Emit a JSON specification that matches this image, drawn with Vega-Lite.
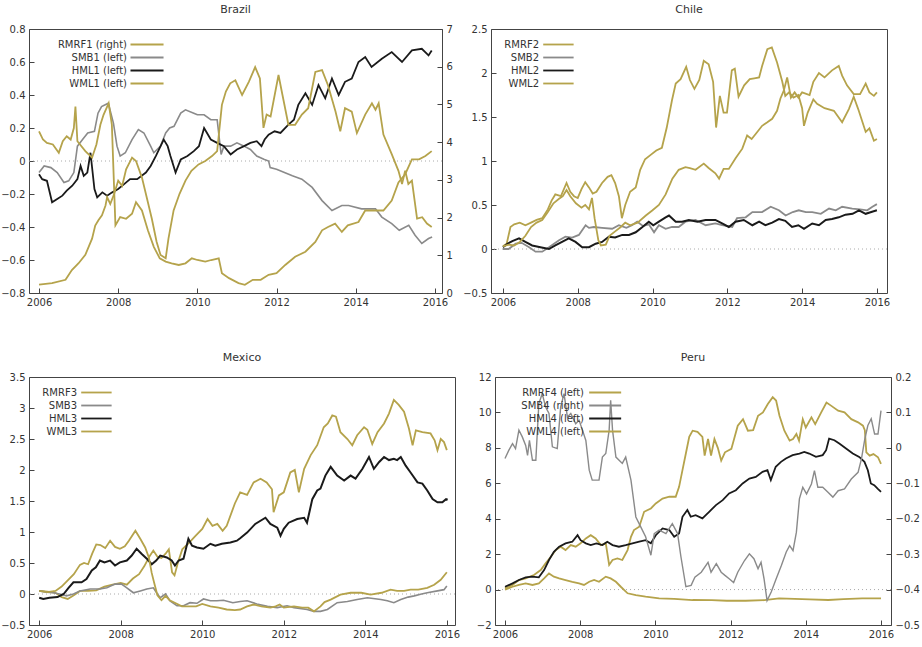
{
"$schema": "https://vega.github.io/schema/vega-lite/v6.json",
"padding": {"left": 0, "top": 3, "right": 2, "bottom": 2},
"background": "white",
"config": {
  "font": "DejaVu Sans",
  "view": {"stroke": "#444", "strokeWidth": 1},
  "axis": {"labelFontSize": 10, "labelColor": "#333", "tickColor": "#444", "domain": false, "grid": false, "tickSize": -5, "labelPadding": 9, "labelOverlap": false},
  "title": {"fontSize": 11, "fontWeight": "normal", "color": "#333", "offset": 9, "anchor": "middle"},
  "legend": {"orient": "top-left", "offset": 9, "labelFontSize": 10, "labelColor": "#333", "symbolSize": 110, "symbolStrokeWidth": 1.8, "rowPadding": 1, "labelAlign": "right", "padding": 0}
},
"datasets": {
  "b_rmrf": [{"t":2006.0,"v":0.22},{"t":2006.33,"v":0.26},{"t":2006.67,"v":0.35},{"t":2006.83,"v":0.61},{"t":2007.0,"v":0.79},{"t":2007.17,"v":1.01},{"t":2007.34,"v":1.44},{"t":2007.42,"v":1.79},{"t":2007.5,"v":1.93},{"t":2007.59,"v":2.06},{"t":2007.68,"v":2.32},{"t":2007.72,"v":2.54},{"t":2007.8,"v":2.36},{"t":2007.9,"v":2.63},{"t":2008.0,"v":2.98},{"t":2008.1,"v":2.84},{"t":2008.2,"v":3.28},{"t":2008.35,"v":3.59},{"t":2008.45,"v":3.5},{"t":2008.6,"v":3.06},{"t":2008.72,"v":2.54},{"t":2008.85,"v":1.97},{"t":2008.97,"v":1.36},{"t":2009.07,"v":1.01},{"t":2009.2,"v":0.92},{"t":2009.27,"v":1.44},{"t":2009.4,"v":2.19},{"t":2009.55,"v":2.63},{"t":2009.7,"v":2.98},{"t":2009.85,"v":3.24},{"t":2010.03,"v":3.41},{"t":2010.2,"v":3.5},{"t":2010.37,"v":3.63},{"t":2010.5,"v":3.76},{"t":2010.62,"v":4.99},{"t":2010.72,"v":5.34},{"t":2010.83,"v":5.56},{"t":2010.96,"v":5.64},{"t":2011.13,"v":5.25},{"t":2011.3,"v":5.6},{"t":2011.46,"v":5.99},{"t":2011.58,"v":5.69},{"t":2011.67,"v":4.38},{"t":2011.75,"v":4.73},{"t":2011.85,"v":4.68},{"t":2012.05,"v":5.78},{"t":2012.15,"v":5.25},{"t":2012.3,"v":4.46},{"t":2012.47,"v":4.46},{"t":2012.64,"v":4.73},{"t":2012.8,"v":4.9},{"t":2012.98,"v":5.86},{"t":2013.15,"v":5.91},{"t":2013.3,"v":5.51},{"t":2013.49,"v":4.81},{"t":2013.61,"v":4.29},{"t":2013.73,"v":4.9},{"t":2013.9,"v":4.81},{"t":2014.03,"v":4.24},{"t":2014.24,"v":4.73},{"t":2014.41,"v":5.03},{"t":2014.5,"v":4.86},{"t":2014.58,"v":5.03},{"t":2014.7,"v":4.2},{"t":2014.91,"v":3.68},{"t":2015.08,"v":3.24},{"t":2015.17,"v":2.89},{"t":2015.25,"v":3.24},{"t":2015.33,"v":2.89},{"t":2015.42,"v":2.98},{"t":2015.55,"v":1.97},{"t":2015.68,"v":2.01},{"t":2015.8,"v":1.84},{"t":2015.92,"v":1.75}],
  "b_smb": [{"t":2006.0,"v":-0.07},{"t":2006.13,"v":-0.03},{"t":2006.3,"v":-0.04},{"t":2006.46,"v":-0.07},{"t":2006.63,"v":-0.13},{"t":2006.75,"v":-0.12},{"t":2006.88,"v":-0.07},{"t":2006.97,"v":0.09},{"t":2007.1,"v":0.13},{"t":2007.23,"v":0.17},{"t":2007.4,"v":0.18},{"t":2007.49,"v":0.29},{"t":2007.58,"v":0.33},{"t":2007.75,"v":0.35},{"t":2007.88,"v":0.23},{"t":2007.97,"v":0.09},{"t":2008.05,"v":0.03},{"t":2008.18,"v":0.05},{"t":2008.35,"v":0.13},{"t":2008.51,"v":0.19},{"t":2008.65,"v":0.17},{"t":2008.82,"v":0.09},{"t":2008.9,"v":0.05},{"t":2009.07,"v":0.09},{"t":2009.2,"v":0.17},{"t":2009.3,"v":0.2},{"t":2009.41,"v":0.21},{"t":2009.58,"v":0.29},{"t":2009.7,"v":0.31},{"t":2009.91,"v":0.29},{"t":2010.0,"v":0.28},{"t":2010.17,"v":0.28},{"t":2010.34,"v":0.25},{"t":2010.5,"v":0.25},{"t":2010.6,"v":0.04},{"t":2010.67,"v":0.09},{"t":2010.84,"v":0.09},{"t":2011.0,"v":0.11},{"t":2011.18,"v":0.09},{"t":2011.34,"v":0.07},{"t":2011.5,"v":0.03},{"t":2011.68,"v":0.01},{"t":2011.8,"v":0.0},{"t":2011.84,"v":-0.04},{"t":2012.0,"v":-0.05},{"t":2012.2,"v":-0.07},{"t":2012.4,"v":-0.09},{"t":2012.64,"v":-0.11},{"t":2012.9,"v":-0.16},{"t":2013.15,"v":-0.24},{"t":2013.4,"v":-0.3},{"t":2013.65,"v":-0.27},{"t":2013.82,"v":-0.27},{"t":2014.15,"v":-0.29},{"t":2014.5,"v":-0.29},{"t":2014.66,"v":-0.34},{"t":2014.91,"v":-0.38},{"t":2015.1,"v":-0.42},{"t":2015.34,"v":-0.39},{"t":2015.5,"v":-0.45},{"t":2015.67,"v":-0.5},{"t":2015.84,"v":-0.47},{"t":2015.93,"v":-0.46}],
  "b_hml": [{"t":2006.0,"v":-0.08},{"t":2006.08,"v":-0.11},{"t":2006.2,"v":-0.12},{"t":2006.33,"v":-0.25},{"t":2006.46,"v":-0.23},{"t":2006.59,"v":-0.21},{"t":2006.7,"v":-0.18},{"t":2006.84,"v":-0.15},{"t":2006.97,"v":-0.11},{"t":2007.05,"v":-0.03},{"t":2007.13,"v":-0.09},{"t":2007.22,"v":-0.07},{"t":2007.3,"v":0.05},{"t":2007.4,"v":-0.17},{"t":2007.47,"v":-0.22},{"t":2007.6,"v":-0.19},{"t":2007.72,"v":-0.21},{"t":2007.85,"v":-0.19},{"t":2008.0,"v":-0.17},{"t":2008.15,"v":-0.14},{"t":2008.3,"v":-0.11},{"t":2008.48,"v":-0.11},{"t":2008.7,"v":-0.07},{"t":2008.82,"v":-0.03},{"t":2008.95,"v":0.03},{"t":2009.15,"v":0.13},{"t":2009.25,"v":0.09},{"t":2009.32,"v":0.03},{"t":2009.45,"v":-0.07},{"t":2009.58,"v":0.01},{"t":2009.75,"v":0.03},{"t":2009.91,"v":0.06},{"t":2010.04,"v":0.09},{"t":2010.17,"v":0.2},{"t":2010.34,"v":0.13},{"t":2010.5,"v":0.11},{"t":2010.67,"v":0.09},{"t":2010.84,"v":0.04},{"t":2011.0,"v":0.07},{"t":2011.18,"v":0.09},{"t":2011.34,"v":0.11},{"t":2011.5,"v":0.12},{"t":2011.62,"v":0.09},{"t":2011.7,"v":0.13},{"t":2011.8,"v":0.16},{"t":2011.95,"v":0.18},{"t":2012.1,"v":0.17},{"t":2012.3,"v":0.22},{"t":2012.44,"v":0.25},{"t":2012.55,"v":0.34},{"t":2012.73,"v":0.41},{"t":2012.9,"v":0.34},{"t":2013.06,"v":0.46},{"t":2013.23,"v":0.38},{"t":2013.4,"v":0.5},{"t":2013.57,"v":0.4},{"t":2013.73,"v":0.48},{"t":2013.9,"v":0.5},{"t":2014.07,"v":0.6},{"t":2014.24,"v":0.63},{"t":2014.4,"v":0.57},{"t":2014.66,"v":0.62},{"t":2014.91,"v":0.66},{"t":2015.17,"v":0.6},{"t":2015.42,"v":0.67},{"t":2015.67,"v":0.68},{"t":2015.84,"v":0.64},{"t":2015.92,"v":0.67}],
  "b_wml": [{"t":2006.0,"v":0.18},{"t":2006.1,"v":0.13},{"t":2006.2,"v":0.11},{"t":2006.35,"v":0.1},{"t":2006.5,"v":0.05},{"t":2006.6,"v":0.12},{"t":2006.7,"v":0.15},{"t":2006.8,"v":0.13},{"t":2006.88,"v":0.2},{"t":2006.92,"v":0.33},{"t":2006.97,"v":0.12},{"t":2007.17,"v":0.06},{"t":2007.34,"v":0.02},{"t":2007.45,"v":0.1},{"t":2007.55,"v":0.22},{"t":2007.63,"v":0.28},{"t":2007.76,"v":0.35},{"t":2007.84,"v":0.22},{"t":2007.93,"v":-0.39},{"t":2008.05,"v":-0.34},{"t":2008.2,"v":-0.35},{"t":2008.35,"v":-0.32},{"t":2008.45,"v":-0.25},{"t":2008.6,"v":-0.3},{"t":2008.75,"v":-0.42},{"t":2008.9,"v":-0.52},{"t":2009.05,"v":-0.59},{"t":2009.2,"v":-0.61},{"t":2009.35,"v":-0.62},{"t":2009.53,"v":-0.63},{"t":2009.7,"v":-0.62},{"t":2009.86,"v":-0.59},{"t":2010.0,"v":-0.6},{"t":2010.2,"v":-0.61},{"t":2010.35,"v":-0.6},{"t":2010.54,"v":-0.59},{"t":2010.62,"v":-0.68},{"t":2010.8,"v":-0.71},{"t":2011.04,"v":-0.74},{"t":2011.2,"v":-0.75},{"t":2011.4,"v":-0.72},{"t":2011.6,"v":-0.72},{"t":2011.8,"v":-0.69},{"t":2012.0,"v":-0.68},{"t":2012.22,"v":-0.63},{"t":2012.47,"v":-0.58},{"t":2012.73,"v":-0.55},{"t":2012.98,"v":-0.49},{"t":2013.15,"v":-0.42},{"t":2013.3,"v":-0.4},{"t":2013.48,"v":-0.38},{"t":2013.65,"v":-0.43},{"t":2013.8,"v":-0.39},{"t":2014.07,"v":-0.37},{"t":2014.24,"v":-0.3},{"t":2014.5,"v":-0.3},{"t":2014.7,"v":-0.3},{"t":2014.91,"v":-0.24},{"t":2015.08,"v":-0.13},{"t":2015.25,"v":-0.08},{"t":2015.42,"v":0.01},{"t":2015.6,"v":0.01},{"t":2015.76,"v":0.03},{"t":2015.92,"v":0.06}],
  "c_rmrf": [{"t":2006.0,"v":0.03},{"t":2006.1,"v":0.06},{"t":2006.2,"v":0.25},{"t":2006.3,"v":0.28},{"t":2006.45,"v":0.3},{"t":2006.6,"v":0.27},{"t":2006.75,"v":0.3},{"t":2006.9,"v":0.33},{"t":2007.05,"v":0.35},{"t":2007.2,"v":0.45},{"t":2007.3,"v":0.55},{"t":2007.4,"v":0.62},{"t":2007.55,"v":0.6},{"t":2007.7,"v":0.75},{"t":2007.8,"v":0.65},{"t":2007.9,"v":0.6},{"t":2008.0,"v":0.58},{"t":2008.1,"v":0.68},{"t":2008.2,"v":0.76},{"t":2008.3,"v":0.7},{"t":2008.4,"v":0.63},{"t":2008.5,"v":0.65},{"t":2008.65,"v":0.75},{"t":2008.8,"v":0.82},{"t":2008.9,"v":0.84},{"t":2009.0,"v":0.75},{"t":2009.1,"v":0.6},{"t":2009.18,"v":0.35},{"t":2009.27,"v":0.5},{"t":2009.4,"v":0.65},{"t":2009.55,"v":0.7},{"t":2009.67,"v":0.9},{"t":2009.8,"v":1.02},{"t":2009.95,"v":1.07},{"t":2010.1,"v":1.12},{"t":2010.25,"v":1.15},{"t":2010.38,"v":1.38},{"t":2010.52,"v":1.69},{"t":2010.62,"v":1.88},{"t":2010.75,"v":1.93},{"t":2010.9,"v":2.07},{"t":2011.0,"v":1.92},{"t":2011.12,"v":1.82},{"t":2011.25,"v":1.92},{"t":2011.37,"v":2.14},{"t":2011.5,"v":2.1},{"t":2011.62,"v":1.9},{"t":2011.7,"v":1.38},{"t":2011.8,"v":1.74},{"t":2011.9,"v":1.55},{"t":2011.99,"v":1.55},{"t":2012.12,"v":2.03},{"t":2012.2,"v":2.05},{"t":2012.3,"v":1.73},{"t":2012.45,"v":1.86},{"t":2012.6,"v":1.93},{"t":2012.72,"v":1.94},{"t":2012.85,"v":1.95},{"t":2012.93,"v":2.08},{"t":2013.07,"v":2.27},{"t":2013.19,"v":2.29},{"t":2013.33,"v":2.12},{"t":2013.47,"v":1.9},{"t":2013.55,"v":1.74},{"t":2013.65,"v":1.78},{"t":2013.77,"v":1.72},{"t":2013.9,"v":1.75},{"t":2014.0,"v":1.6},{"t":2014.05,"v":1.4},{"t":2014.15,"v":1.55},{"t":2014.3,"v":1.7},{"t":2014.4,"v":1.65},{"t":2014.6,"v":1.6},{"t":2014.85,"v":1.57},{"t":2015.07,"v":1.44},{"t":2015.25,"v":1.59},{"t":2015.38,"v":1.73},{"t":2015.5,"v":1.59},{"t":2015.7,"v":1.33},{"t":2015.8,"v":1.37},{"t":2015.92,"v":1.23},{"t":2016.0,"v":1.25}],
  "c_smb": [{"t":2006.0,"v":0.0},{"t":2006.15,"v":0.0},{"t":2006.34,"v":0.06},{"t":2006.5,"v":0.07},{"t":2006.7,"v":0.02},{"t":2006.87,"v":-0.03},{"t":2007.05,"v":-0.03},{"t":2007.23,"v":0.02},{"t":2007.5,"v":0.1},{"t":2007.67,"v":0.14},{"t":2007.85,"v":0.13},{"t":2008.03,"v":0.16},{"t":2008.21,"v":0.27},{"t":2008.3,"v":0.24},{"t":2008.43,"v":0.25},{"t":2008.65,"v":0.24},{"t":2008.92,"v":0.23},{"t":2009.1,"v":0.27},{"t":2009.3,"v":0.24},{"t":2009.45,"v":0.27},{"t":2009.59,"v":0.31},{"t":2009.75,"v":0.26},{"t":2009.9,"v":0.28},{"t":2010.04,"v":0.19},{"t":2010.17,"v":0.27},{"t":2010.35,"v":0.23},{"t":2010.52,"v":0.25},{"t":2010.7,"v":0.25},{"t":2010.88,"v":0.31},{"t":2011.15,"v":0.33},{"t":2011.42,"v":0.27},{"t":2011.68,"v":0.29},{"t":2011.86,"v":0.27},{"t":2012.13,"v":0.25},{"t":2012.26,"v":0.35},{"t":2012.49,"v":0.36},{"t":2012.67,"v":0.42},{"t":2012.93,"v":0.42},{"t":2013.16,"v":0.48},{"t":2013.38,"v":0.44},{"t":2013.56,"v":0.38},{"t":2013.75,"v":0.42},{"t":2013.91,"v":0.44},{"t":2014.1,"v":0.42},{"t":2014.27,"v":0.42},{"t":2014.5,"v":0.4},{"t":2014.72,"v":0.46},{"t":2014.9,"v":0.44},{"t":2015.07,"v":0.48},{"t":2015.34,"v":0.46},{"t":2015.55,"v":0.45},{"t":2015.74,"v":0.44},{"t":2015.88,"v":0.48},{"t":2016.0,"v":0.51}],
  "c_hml": [{"t":2006.0,"v":0.02},{"t":2006.12,"v":0.06},{"t":2006.25,"v":0.09},{"t":2006.43,"v":0.12},{"t":2006.6,"v":0.08},{"t":2006.78,"v":0.04},{"t":2007.0,"v":0.02},{"t":2007.23,"v":0.0},{"t":2007.4,"v":0.04},{"t":2007.58,"v":0.08},{"t":2007.76,"v":0.12},{"t":2007.94,"v":0.08},{"t":2008.12,"v":0.02},{"t":2008.3,"v":0.02},{"t":2008.48,"v":0.06},{"t":2008.65,"v":0.08},{"t":2008.83,"v":0.14},{"t":2009.0,"v":0.13},{"t":2009.19,"v":0.16},{"t":2009.37,"v":0.16},{"t":2009.55,"v":0.19},{"t":2009.73,"v":0.25},{"t":2009.9,"v":0.31},{"t":2010.02,"v":0.27},{"t":2010.17,"v":0.31},{"t":2010.35,"v":0.36},{"t":2010.44,"v":0.38},{"t":2010.62,"v":0.31},{"t":2010.79,"v":0.31},{"t":2010.97,"v":0.33},{"t":2011.2,"v":0.31},{"t":2011.42,"v":0.33},{"t":2011.68,"v":0.33},{"t":2011.86,"v":0.29},{"t":2012.04,"v":0.25},{"t":2012.22,"v":0.31},{"t":2012.44,"v":0.33},{"t":2012.67,"v":0.27},{"t":2012.85,"v":0.31},{"t":2013.02,"v":0.27},{"t":2013.2,"v":0.3},{"t":2013.38,"v":0.34},{"t":2013.55,"v":0.32},{"t":2013.73,"v":0.25},{"t":2013.9,"v":0.27},{"t":2014.05,"v":0.23},{"t":2014.27,"v":0.29},{"t":2014.45,"v":0.27},{"t":2014.63,"v":0.33},{"t":2014.8,"v":0.34},{"t":2014.98,"v":0.36},{"t":2015.16,"v":0.39},{"t":2015.35,"v":0.4},{"t":2015.52,"v":0.44},{"t":2015.7,"v":0.4},{"t":2015.85,"v":0.42},{"t":2016.0,"v":0.44}],
  "c_wml": [{"t":2006.0,"v":0.03},{"t":2006.15,"v":0.05},{"t":2006.3,"v":0.04},{"t":2006.45,"v":0.08},{"t":2006.6,"v":0.15},{"t":2006.75,"v":0.25},{"t":2006.9,"v":0.3},{"t":2007.05,"v":0.33},{"t":2007.2,"v":0.42},{"t":2007.35,"v":0.52},{"t":2007.5,"v":0.57},{"t":2007.6,"v":0.6},{"t":2007.7,"v":0.67},{"t":2007.8,"v":0.6},{"t":2007.95,"v":0.52},{"t":2008.1,"v":0.47},{"t":2008.2,"v":0.5},{"t":2008.3,"v":0.45},{"t":2008.38,"v":0.58},{"t":2008.45,"v":0.35},{"t":2008.55,"v":0.1},{"t":2008.62,"v":0.04},{"t":2008.75,"v":0.05},{"t":2008.85,"v":0.15},{"t":2009.0,"v":0.2},{"t":2009.15,"v":0.25},{"t":2009.27,"v":0.3},{"t":2009.4,"v":0.27},{"t":2009.6,"v":0.3},{"t":2009.82,"v":0.38},{"t":2010.0,"v":0.44},{"t":2010.17,"v":0.5},{"t":2010.35,"v":0.62},{"t":2010.53,"v":0.8},{"t":2010.7,"v":0.9},{"t":2010.88,"v":0.93},{"t":2011.0,"v":0.92},{"t":2011.15,"v":0.9},{"t":2011.37,"v":0.97},{"t":2011.5,"v":0.92},{"t":2011.68,"v":0.86},{"t":2011.78,"v":0.8},{"t":2011.9,"v":0.91},{"t":2012.04,"v":0.91},{"t":2012.22,"v":1.03},{"t":2012.4,"v":1.14},{"t":2012.53,"v":1.29},{"t":2012.65,"v":1.25},{"t":2012.8,"v":1.33},{"t":2012.93,"v":1.4},{"t":2013.07,"v":1.44},{"t":2013.2,"v":1.48},{"t":2013.33,"v":1.57},{"t":2013.42,"v":1.71},{"t":2013.51,"v":1.8},{"t":2013.6,"v":1.95},{"t":2013.7,"v":1.72},{"t":2013.8,"v":1.78},{"t":2013.9,"v":1.72},{"t":2014.0,"v":1.78},{"t":2014.2,"v":1.75},{"t":2014.3,"v":1.9},{"t":2014.45,"v":2.0},{"t":2014.6,"v":1.95},{"t":2014.8,"v":2.03},{"t":2014.98,"v":2.08},{"t":2015.07,"v":1.97},{"t":2015.2,"v":1.86},{"t":2015.38,"v":1.76},{"t":2015.55,"v":1.76},{"t":2015.7,"v":1.88},{"t":2015.8,"v":1.78},{"t":2015.92,"v":1.74},{"t":2016.0,"v":1.78}],
  "m_rmrf": [{"t":2006.0,"v":0.05},{"t":2006.2,"v":0.04},{"t":2006.4,"v":0.02},{"t":2006.55,"v":-0.05},{"t":2006.7,"v":-0.08},{"t":2006.85,"v":-0.02},{"t":2007.0,"v":0.05},{"t":2007.2,"v":0.05},{"t":2007.4,"v":0.06},{"t":2007.6,"v":0.12},{"t":2007.8,"v":0.15},{"t":2008.0,"v":0.18},{"t":2008.15,"v":0.15},{"t":2008.3,"v":0.25},{"t":2008.45,"v":0.32},{"t":2008.58,"v":0.45},{"t":2008.7,"v":0.6},{"t":2008.8,"v":0.7},{"t":2008.9,"v":0.6},{"t":2009.0,"v":0.58},{"t":2009.1,"v":0.65},{"t":2009.18,"v":0.72},{"t":2009.26,"v":0.35},{"t":2009.32,"v":0.3},{"t":2009.4,"v":0.5},{"t":2009.51,"v":0.72},{"t":2009.68,"v":0.83},{"t":2009.84,"v":0.94},{"t":2010.0,"v":1.05},{"t":2010.13,"v":1.21},{"t":2010.25,"v":1.1},{"t":2010.37,"v":1.13},{"t":2010.5,"v":1.02},{"t":2010.6,"v":1.1},{"t":2010.8,"v":1.46},{"t":2010.93,"v":1.64},{"t":2011.1,"v":1.6},{"t":2011.26,"v":1.8},{"t":2011.43,"v":1.86},{"t":2011.58,"v":1.8},{"t":2011.71,"v":1.69},{"t":2011.75,"v":1.32},{"t":2011.88,"v":1.59},{"t":2012.0,"v":1.64},{"t":2012.16,"v":1.96},{"t":2012.27,"v":2.0},{"t":2012.37,"v":1.64},{"t":2012.5,"v":2.02},{"t":2012.66,"v":2.24},{"t":2012.82,"v":2.4},{"t":2012.98,"v":2.69},{"t":2013.08,"v":2.75},{"t":2013.19,"v":2.88},{"t":2013.28,"v":2.86},{"t":2013.39,"v":2.61},{"t":2013.56,"v":2.5},{"t":2013.68,"v":2.4},{"t":2013.8,"v":2.56},{"t":2013.97,"v":2.69},{"t":2014.05,"v":2.65},{"t":2014.17,"v":2.42},{"t":2014.3,"v":2.61},{"t":2014.46,"v":2.75},{"t":2014.58,"v":2.91},{"t":2014.7,"v":3.13},{"t":2014.82,"v":3.05},{"t":2014.95,"v":2.94},{"t":2015.07,"v":2.67},{"t":2015.16,"v":2.4},{"t":2015.24,"v":2.64},{"t":2015.4,"v":2.61},{"t":2015.6,"v":2.59},{"t":2015.7,"v":2.48},{"t":2015.77,"v":2.32},{"t":2015.85,"v":2.5},{"t":2015.93,"v":2.45},{"t":2016.0,"v":2.32}],
  "m_smb": [{"t":2006.0,"v":0.05},{"t":2006.18,"v":0.03},{"t":2006.35,"v":0.02},{"t":2006.5,"v":0.0},{"t":2006.67,"v":-0.03},{"t":2006.84,"v":0.0},{"t":2007.0,"v":0.05},{"t":2007.25,"v":0.08},{"t":2007.49,"v":0.08},{"t":2007.66,"v":0.1},{"t":2007.86,"v":0.16},{"t":2008.02,"v":0.16},{"t":2008.15,"v":0.1},{"t":2008.31,"v":0.02},{"t":2008.48,"v":0.05},{"t":2008.64,"v":0.08},{"t":2008.8,"v":0.1},{"t":2008.9,"v":0.0},{"t":2008.97,"v":-0.06},{"t":2009.1,"v":0.0},{"t":2009.21,"v":-0.11},{"t":2009.38,"v":-0.19},{"t":2009.54,"v":-0.19},{"t":2009.7,"v":-0.14},{"t":2009.87,"v":-0.15},{"t":2010.03,"v":-0.08},{"t":2010.2,"v":-0.11},{"t":2010.36,"v":-0.11},{"t":2010.52,"v":-0.1},{"t":2010.75,"v":-0.14},{"t":2010.93,"v":-0.12},{"t":2011.1,"v":-0.11},{"t":2011.34,"v":-0.16},{"t":2011.6,"v":-0.2},{"t":2011.84,"v":-0.22},{"t":2012.08,"v":-0.19},{"t":2012.25,"v":-0.22},{"t":2012.57,"v":-0.25},{"t":2012.74,"v":-0.28},{"t":2012.9,"v":-0.28},{"t":2013.07,"v":-0.25},{"t":2013.31,"v":-0.14},{"t":2013.56,"v":-0.12},{"t":2013.8,"v":-0.09},{"t":2014.05,"v":-0.06},{"t":2014.38,"v":-0.09},{"t":2014.54,"v":-0.11},{"t":2014.7,"v":-0.14},{"t":2014.87,"v":-0.09},{"t":2015.05,"v":-0.05},{"t":2015.2,"v":-0.03},{"t":2015.38,"v":0.0},{"t":2015.52,"v":0.02},{"t":2015.77,"v":0.05},{"t":2015.93,"v":0.07},{"t":2016.0,"v":0.13}],
  "m_hml": [{"t":2006.0,"v":-0.06},{"t":2006.1,"v":-0.08},{"t":2006.25,"v":-0.06},{"t":2006.45,"v":-0.05},{"t":2006.6,"v":0.0},{"t":2006.72,"v":0.1},{"t":2006.84,"v":0.19},{"t":2007.04,"v":0.19},{"t":2007.16,"v":0.24},{"t":2007.29,"v":0.38},{"t":2007.39,"v":0.43},{"t":2007.49,"v":0.54},{"t":2007.6,"v":0.51},{"t":2007.74,"v":0.54},{"t":2007.86,"v":0.46},{"t":2007.98,"v":0.51},{"t":2008.15,"v":0.54},{"t":2008.27,"v":0.62},{"t":2008.39,"v":0.73},{"t":2008.51,"v":0.65},{"t":2008.64,"v":0.57},{"t":2008.76,"v":0.48},{"t":2008.87,"v":0.54},{"t":2008.97,"v":0.62},{"t":2009.13,"v":0.59},{"t":2009.25,"v":0.54},{"t":2009.33,"v":0.46},{"t":2009.42,"v":0.54},{"t":2009.54,"v":0.57},{"t":2009.66,"v":0.89},{"t":2009.75,"v":0.78},{"t":2009.87,"v":0.75},{"t":2010.03,"v":0.73},{"t":2010.2,"v":0.81},{"t":2010.32,"v":0.78},{"t":2010.48,"v":0.81},{"t":2010.69,"v":0.83},{"t":2010.85,"v":0.86},{"t":2010.93,"v":0.9},{"t":2011.1,"v":0.99},{"t":2011.3,"v":1.13},{"t":2011.55,"v":1.23},{"t":2011.67,"v":1.13},{"t":2011.84,"v":1.07},{"t":2011.92,"v":0.94},{"t":2012.0,"v":1.05},{"t":2012.12,"v":1.15},{"t":2012.33,"v":1.21},{"t":2012.5,"v":1.23},{"t":2012.57,"v":1.15},{"t":2012.7,"v":1.53},{"t":2012.82,"v":1.67},{"t":2012.9,"v":1.7},{"t":2013.02,"v":1.91},{"t":2013.15,"v":2.05},{"t":2013.31,"v":1.91},{"t":2013.48,"v":1.83},{"t":2013.64,"v":1.91},{"t":2013.76,"v":1.86},{"t":2013.93,"v":2.02},{"t":2014.09,"v":2.21},{"t":2014.21,"v":2.02},{"t":2014.34,"v":2.13},{"t":2014.46,"v":2.21},{"t":2014.58,"v":2.16},{"t":2014.7,"v":2.18},{"t":2014.78,"v":2.16},{"t":2014.87,"v":2.21},{"t":2014.99,"v":2.07},{"t":2015.11,"v":1.96},{"t":2015.28,"v":1.8},{"t":2015.4,"v":1.78},{"t":2015.52,"v":1.67},{"t":2015.65,"v":1.53},{"t":2015.77,"v":1.48},{"t":2015.89,"v":1.48},{"t":2015.98,"v":1.53},{"t":2016.02,"v":1.52}],
  "m_wml": [{"t":2006.0,"v":0.05},{"t":2006.2,"v":0.03},{"t":2006.4,"v":0.05},{"t":2006.55,"v":0.12},{"t":2006.7,"v":0.22},{"t":2006.85,"v":0.32},{"t":2007.0,"v":0.47},{"t":2007.1,"v":0.5},{"t":2007.2,"v":0.48},{"t":2007.3,"v":0.65},{"t":2007.4,"v":0.8},{"t":2007.5,"v":0.79},{"t":2007.62,"v":0.74},{"t":2007.74,"v":0.86},{"t":2007.86,"v":0.76},{"t":2007.98,"v":0.73},{"t":2008.1,"v":0.77},{"t":2008.2,"v":0.86},{"t":2008.36,"v":1.02},{"t":2008.49,"v":0.88},{"t":2008.6,"v":0.75},{"t":2008.69,"v":0.59},{"t":2008.76,"v":0.34},{"t":2008.82,"v":0.18},{"t":2008.9,"v":-0.02},{"t":2009.0,"v":-0.1},{"t":2009.1,"v":-0.03},{"t":2009.2,"v":-0.1},{"t":2009.35,"v":-0.15},{"t":2009.5,"v":-0.2},{"t":2009.65,"v":-0.2},{"t":2009.85,"v":-0.2},{"t":2010.0,"v":-0.16},{"t":2010.2,"v":-0.2},{"t":2010.4,"v":-0.22},{"t":2010.6,"v":-0.25},{"t":2010.8,"v":-0.26},{"t":2010.93,"v":-0.25},{"t":2011.1,"v":-0.2},{"t":2011.26,"v":-0.17},{"t":2011.45,"v":-0.2},{"t":2011.67,"v":-0.22},{"t":2011.8,"v":-0.2},{"t":2011.9,"v":-0.17},{"t":2012.0,"v":-0.22},{"t":2012.25,"v":-0.2},{"t":2012.45,"v":-0.22},{"t":2012.6,"v":-0.22},{"t":2012.74,"v":-0.28},{"t":2012.9,"v":-0.2},{"t":2013.0,"v":-0.13},{"t":2013.15,"v":-0.09},{"t":2013.39,"v":-0.01},{"t":2013.64,"v":0.02},{"t":2013.9,"v":0.02},{"t":2014.13,"v":-0.01},{"t":2014.4,"v":0.02},{"t":2014.62,"v":0.07},{"t":2014.78,"v":0.05},{"t":2014.95,"v":0.05},{"t":2015.11,"v":0.07},{"t":2015.3,"v":0.07},{"t":2015.52,"v":0.1},{"t":2015.69,"v":0.15},{"t":2015.85,"v":0.23},{"t":2016.0,"v":0.35}],
  "p_rmrf": [{"t":2006.0,"v":0.07},{"t":2006.2,"v":0.26},{"t":2006.37,"v":0.54},{"t":2006.55,"v":0.63},{"t":2006.77,"v":0.82},{"t":2006.95,"v":1.1},{"t":2007.08,"v":1.48},{"t":2007.22,"v":1.85},{"t":2007.35,"v":2.23},{"t":2007.48,"v":2.42},{"t":2007.61,"v":2.23},{"t":2007.75,"v":2.51},{"t":2007.88,"v":2.42},{"t":2008.01,"v":2.61},{"t":2008.15,"v":2.89},{"t":2008.28,"v":3.07},{"t":2008.41,"v":2.89},{"t":2008.55,"v":2.51},{"t":2008.68,"v":2.61},{"t":2008.77,"v":1.39},{"t":2008.86,"v":1.67},{"t":2008.99,"v":1.76},{"t":2009.12,"v":1.67},{"t":2009.26,"v":2.23},{"t":2009.35,"v":2.98},{"t":2009.43,"v":3.36},{"t":2009.57,"v":3.55},{"t":2009.7,"v":4.39},{"t":2009.88,"v":4.58},{"t":2010.01,"v":4.86},{"t":2010.19,"v":5.14},{"t":2010.37,"v":5.24},{"t":2010.54,"v":5.24},{"t":2010.63,"v":5.8},{"t":2010.72,"v":6.74},{"t":2010.81,"v":7.68},{"t":2010.9,"v":8.62},{"t":2010.99,"v":8.97},{"t":2011.12,"v":8.9},{"t":2011.25,"v":8.62},{"t":2011.31,"v":7.56},{"t":2011.4,"v":8.5},{"t":2011.48,"v":7.56},{"t":2011.57,"v":8.5},{"t":2011.66,"v":8.0},{"t":2011.75,"v":7.28},{"t":2011.85,"v":7.75},{"t":2012.02,"v":7.94},{"t":2012.19,"v":9.25},{"t":2012.33,"v":9.62},{"t":2012.46,"v":8.97},{"t":2012.6,"v":9.0},{"t":2012.73,"v":9.81},{"t":2012.86,"v":10.0},{"t":2012.99,"v":10.47},{"t":2013.12,"v":10.86},{"t":2013.21,"v":10.67},{"t":2013.3,"v":9.81},{"t":2013.43,"v":8.97},{"t":2013.57,"v":8.41},{"t":2013.66,"v":8.5},{"t":2013.75,"v":8.78},{"t":2013.82,"v":8.4},{"t":2013.92,"v":9.62},{"t":2014.0,"v":9.15},{"t":2014.15,"v":9.72},{"t":2014.25,"v":9.34},{"t":2014.41,"v":10.0},{"t":2014.55,"v":10.56},{"t":2014.68,"v":10.37},{"t":2014.86,"v":10.1},{"t":2015.03,"v":10.0},{"t":2015.21,"v":9.62},{"t":2015.39,"v":9.44},{"t":2015.52,"v":9.25},{"t":2015.57,"v":9.0},{"t":2015.61,"v":7.75},{"t":2015.7,"v":7.56},{"t":2015.8,"v":7.65},{"t":2015.92,"v":7.47},{"t":2016.0,"v":7.1}],
  "p_smb": [{"t":2006.0,"v":-0.03},{"t":2006.1,"v":-0.007},{"t":2006.2,"v":0.012},{"t":2006.28,"v":-0.002},{"t":2006.37,"v":0.05},{"t":2006.46,"v":0.031},{"t":2006.55,"v":0.007},{"t":2006.6,"v":-0.021},{"t":2006.65,"v":0.021},{"t":2006.73,"v":-0.035},{"t":2006.82,"v":-0.035},{"t":2006.9,"v":0.125},{"t":2006.99,"v":0.153},{"t":2007.08,"v":0.115},{"t":2007.17,"v":0.097},{"t":2007.26,"v":0.003},{"t":2007.39,"v":-0.002},{"t":2007.48,"v":0.115},{"t":2007.57,"v":0.153},{"t":2007.66,"v":0.087},{"t":2007.75,"v":0.097},{"t":2007.88,"v":0.068},{"t":2007.97,"v":0.078},{"t":2008.06,"v":0.05},{"t":2008.15,"v":0.021},{"t":2008.24,"v":-0.063},{"t":2008.32,"v":-0.091},{"t":2008.5,"v":-0.091},{"t":2008.59,"v":-0.026},{"t":2008.68,"v":-0.016},{"t":2008.77,"v":0.05},{"t":2008.81,"v":0.134},{"t":2008.86,"v":0.05},{"t":2008.95,"v":-0.026},{"t":2009.12,"v":-0.044},{"t":2009.21,"v":-0.026},{"t":2009.35,"v":-0.091},{"t":2009.48,"v":-0.195},{"t":2009.61,"v":-0.223},{"t":2009.74,"v":-0.251},{"t":2009.88,"v":-0.303},{"t":2009.97,"v":-0.242},{"t":2010.1,"v":-0.232},{"t":2010.28,"v":-0.242},{"t":2010.45,"v":-0.214},{"t":2010.59,"v":-0.242},{"t":2010.68,"v":-0.308},{"t":2010.81,"v":-0.392},{"t":2010.95,"v":-0.388},{"t":2011.05,"v":-0.365},{"t":2011.22,"v":-0.351},{"t":2011.4,"v":-0.323},{"t":2011.48,"v":-0.351},{"t":2011.62,"v":-0.327},{"t":2011.75,"v":-0.351},{"t":2011.85,"v":-0.36},{"t":2011.97,"v":-0.37},{"t":2012.08,"v":-0.38},{"t":2012.19,"v":-0.351},{"t":2012.37,"v":-0.318},{"t":2012.5,"v":-0.299},{"t":2012.62,"v":-0.313},{"t":2012.73,"v":-0.341},{"t":2012.81,"v":-0.323},{"t":2012.89,"v":-0.37},{"t":2012.97,"v":-0.431},{"t":2013.08,"v":-0.407},{"t":2013.21,"v":-0.37},{"t":2013.35,"v":-0.332},{"t":2013.48,"v":-0.294},{"t":2013.57,"v":-0.276},{"t":2013.66,"v":-0.29},{"t":2013.75,"v":-0.238},{"t":2013.83,"v":-0.144},{"t":2013.92,"v":-0.111},{"t":2014.02,"v":-0.13},{"t":2014.15,"v":-0.102},{"t":2014.23,"v":-0.064},{"t":2014.32,"v":-0.111},{"t":2014.45,"v":-0.111},{"t":2014.59,"v":-0.125},{"t":2014.72,"v":-0.139},{"t":2014.86,"v":-0.121},{"t":2015.03,"v":-0.116},{"t":2015.21,"v":-0.088},{"t":2015.39,"v":-0.069},{"t":2015.48,"v":-0.031},{"t":2015.57,"v":0.025},{"t":2015.65,"v":0.063},{"t":2015.74,"v":0.082},{"t":2015.83,"v":0.039},{"t":2015.92,"v":0.039},{"t":2016.0,"v":0.105}],
  "p_hml": [{"t":2006.0,"v":0.16},{"t":2006.2,"v":0.35},{"t":2006.37,"v":0.54},{"t":2006.55,"v":0.69},{"t":2006.72,"v":0.73},{"t":2006.9,"v":0.69},{"t":2007.04,"v":1.1},{"t":2007.17,"v":1.67},{"t":2007.3,"v":2.13},{"t":2007.44,"v":2.42},{"t":2007.61,"v":2.61},{"t":2007.79,"v":2.7},{"t":2007.93,"v":3.07},{"t":2008.01,"v":2.79},{"t":2008.15,"v":2.61},{"t":2008.28,"v":2.51},{"t":2008.43,"v":2.61},{"t":2008.59,"v":2.51},{"t":2008.72,"v":2.7},{"t":2008.86,"v":2.51},{"t":2009.03,"v":2.42},{"t":2009.21,"v":2.51},{"t":2009.39,"v":2.61},{"t":2009.57,"v":2.7},{"t":2009.74,"v":2.79},{"t":2009.88,"v":2.61},{"t":2010.01,"v":3.07},{"t":2010.19,"v":3.45},{"t":2010.37,"v":3.36},{"t":2010.5,"v":2.98},{"t":2010.63,"v":3.17},{"t":2010.72,"v":4.11},{"t":2010.85,"v":4.49},{"t":2010.94,"v":4.11},{"t":2011.07,"v":4.2},{"t":2011.25,"v":4.02},{"t":2011.43,"v":4.39},{"t":2011.61,"v":4.77},{"t":2011.79,"v":5.05},{"t":2011.96,"v":5.43},{"t":2012.14,"v":5.61},{"t":2012.32,"v":5.99},{"t":2012.5,"v":6.27},{"t":2012.67,"v":6.36},{"t":2012.85,"v":6.65},{"t":2012.98,"v":6.74},{"t":2013.07,"v":6.18},{"t":2013.2,"v":6.93},{"t":2013.34,"v":7.21},{"t":2013.47,"v":7.4},{"t":2013.65,"v":7.59},{"t":2013.83,"v":7.68},{"t":2013.96,"v":7.77},{"t":2014.09,"v":7.68},{"t":2014.27,"v":7.49},{"t":2014.45,"v":7.59},{"t":2014.54,"v":7.87},{"t":2014.62,"v":8.52},{"t":2014.76,"v":8.43},{"t":2014.89,"v":8.24},{"t":2015.07,"v":7.96},{"t":2015.25,"v":7.68},{"t":2015.42,"v":7.49},{"t":2015.56,"v":7.21},{"t":2015.65,"v":6.74},{"t":2015.73,"v":5.99},{"t":2015.82,"v":5.89},{"t":2015.91,"v":5.7},{"t":2016.0,"v":5.52}],
  "p_wml": [{"t":2006.0,"v":0.0},{"t":2006.2,"v":0.16},{"t":2006.37,"v":0.26},{"t":2006.55,"v":0.35},{"t":2006.73,"v":0.26},{"t":2006.9,"v":0.35},{"t":2007.04,"v":0.63},{"t":2007.17,"v":0.91},{"t":2007.3,"v":0.73},{"t":2007.44,"v":0.63},{"t":2007.61,"v":0.54},{"t":2007.79,"v":0.44},{"t":2007.97,"v":0.35},{"t":2008.1,"v":0.26},{"t":2008.24,"v":0.44},{"t":2008.37,"v":0.54},{"t":2008.5,"v":0.44},{"t":2008.68,"v":0.73},{"t":2008.81,"v":0.63},{"t":2008.95,"v":0.44},{"t":2009.08,"v":0.16},{"t":2009.26,"v":-0.21},{"t":2009.48,"v":-0.31},{"t":2009.74,"v":-0.4},{"t":2010.1,"v":-0.5},{"t":2010.5,"v":-0.52},{"t":2010.99,"v":-0.59},{"t":2011.5,"v":-0.6},{"t":2011.9,"v":-0.63},{"t":2012.4,"v":-0.63},{"t":2012.9,"v":-0.6},{"t":2013.29,"v":-0.5},{"t":2013.7,"v":-0.52},{"t":2014.1,"v":-0.55},{"t":2014.6,"v":-0.59},{"t":2015.0,"v":-0.54},{"t":2015.5,"v":-0.5},{"t":2016.0,"v":-0.5}]
},
"vconcat": [
  {
    "hconcat": [
      {
        "title": {"text": "Brazil"},
        "width": 413, "height": 264,
        "layer": [
          {"layer": [
            {"data": {"values": [{}]}, "mark": {"type": "rule", "color": "#aaa", "strokeDash": [1, 3], "strokeWidth": 1}, "encoding": {"y": {"datum": 0}}},
            {"data": {"name": "b_smb"}, "mark": {"type": "line", "strokeWidth": 1.6},
             "encoding": {
               "x": {"field": "t", "type": "quantitative", "title": null, "scale": {"domain": [2005.747, 2016.18], "nice": false, "zero": false}, "axis": {"values": [2006, 2008, 2010, 2012, 2014, 2016], "format": "d"}},
               "y": {"field": "v", "type": "quantitative", "title": null, "scale": {"domain": [-0.8, 0.8], "nice": false, "zero": false}, "axis": {"orient": "left", "values": [-0.8, -0.6, -0.4, -0.2, 0, 0.2, 0.4, 0.6, 0.8], "tickCount": 9, "labelOverlap": false, "format": "~g"}},
               "color": {"datum": "SMB1 (left)", "type": "nominal", "scale": {"domain": ["RMRF1 (right)", "SMB1 (left)", "HML1 (left)", "WML1 (left)"], "range": ["#b5a34b", "#8a8a8a", "#1a1a1a", "#b5a34b"]}, "legend": {"title": null, "labelOffset": 76, "symbolType": "M16.4,0H22.7"}}
             }},
            {"data": {"name": "b_hml"}, "mark": {"type": "line", "strokeWidth": 1.8},
             "encoding": {"x": {"field": "t", "type": "quantitative", "title": null}, "y": {"field": "v", "type": "quantitative", "title": null}, "color": {"datum": "HML1 (left)", "type": "nominal"}}},
            {"data": {"name": "b_wml"}, "mark": {"type": "line", "strokeWidth": 1.8},
             "encoding": {"x": {"field": "t", "type": "quantitative", "title": null}, "y": {"field": "v", "type": "quantitative", "title": null}, "color": {"datum": "WML1 (left)", "type": "nominal"}}}
          ]},
          {"data": {"name": "b_rmrf"}, "mark": {"type": "line", "strokeWidth": 1.8},
           "encoding": {
             "x": {"field": "t", "type": "quantitative", "title": null},
             "y": {"field": "v", "type": "quantitative", "title": null, "scale": {"domain": [0, 7], "nice": false, "zero": false}, "axis": {"orient": "right", "values": [0, 1, 2, 3, 4, 5, 6, 7], "labelOverlap": false, "format": "d"}},
             "color": {"datum": "RMRF1 (right)", "type": "nominal"}
           }}
        ],
        "resolve": {"scale": {"y": "independent"}, "axis": {"y": "independent"}}
      },
      {
        "title": {"text": "Chile"},
        "width": 396, "height": 264,
        "layer": [
          {"data": {"values": [{}]}, "mark": {"type": "rule", "color": "#aaa", "strokeDash": [1, 3], "strokeWidth": 1}, "encoding": {"y": {"datum": 0}}},
          {"data": {"name": "c_rmrf"}, "mark": {"type": "line", "strokeWidth": 1.8},
           "encoding": {
             "x": {"field": "t", "type": "quantitative", "title": null, "scale": {"domain": [2005.68, 2016.27], "nice": false, "zero": false}, "axis": {"values": [2006, 2008, 2010, 2012, 2014, 2016], "format": "d"}},
             "y": {"field": "v", "type": "quantitative", "title": null, "scale": {"domain": [-0.5, 2.5], "nice": false, "zero": false}, "axis": {"values": [-0.5, 0, 0.5, 1, 1.5, 2, 2.5], "labelOverlap": false, "format": "~g"}},
             "color": {"datum": "RMRF2", "type": "nominal", "scale": {"domain": ["RMRF2", "SMB2", "HML2", "WML2"], "range": ["#b5a34b", "#8a8a8a", "#1a1a1a", "#b5a34b"]}, "legend": {"title": null, "labelOffset": 26, "symbolType": "M7,0H12.8"}}
           }},
          {"data": {"name": "c_smb"}, "mark": {"type": "line", "strokeWidth": 1.8},
           "encoding": {"x": {"field": "t", "type": "quantitative", "title": null}, "y": {"field": "v", "type": "quantitative", "title": null}, "color": {"datum": "SMB2", "type": "nominal"}}},
          {"data": {"name": "c_hml"}, "mark": {"type": "line", "strokeWidth": 2},
           "encoding": {"x": {"field": "t", "type": "quantitative", "title": null}, "y": {"field": "v", "type": "quantitative", "title": null}, "color": {"datum": "HML2", "type": "nominal"}}},
          {"data": {"name": "c_wml"}, "mark": {"type": "line", "strokeWidth": 1.8},
           "encoding": {"x": {"field": "t", "type": "quantitative", "title": null}, "y": {"field": "v", "type": "quantitative", "title": null}, "color": {"datum": "WML2", "type": "nominal"}}}
        ]
      }
    ],
    "spacing": 49, "bounds": "flush",
    "resolve": {"scale": {"x": "independent", "y": "independent", "color": "independent"}, "legend": {"color": "independent"}, "axis": {"x": "independent", "y": "independent"}}
  },
  {
    "hconcat": [
      {
        "title": {"text": "Mexico"},
        "width": 426, "height": 248,
        "layer": [
          {"data": {"values": [{}]}, "mark": {"type": "rule", "color": "#aaa", "strokeDash": [1, 3], "strokeWidth": 1}, "encoding": {"y": {"datum": 0}}},
          {"data": {"name": "m_rmrf"}, "mark": {"type": "line", "strokeWidth": 1.8},
           "encoding": {
             "x": {"field": "t", "type": "quantitative", "title": null, "scale": {"domain": [2005.75, 2016.2], "nice": false, "zero": false}, "axis": {"values": [2006, 2008, 2010, 2012, 2014, 2016], "format": "d"}},
             "y": {"field": "v", "type": "quantitative", "title": null, "scale": {"domain": [-0.5, 3.5], "nice": false, "zero": false}, "axis": {"values": [-0.5, 0, 0.5, 1, 1.5, 2, 2.5, 3, 3.5], "tickCount": 9, "labelOverlap": false, "format": "~g"}},
             "color": {"datum": "RMRF3", "type": "nominal", "scale": {"domain": ["RMRF3", "SMB3", "HML3", "WML3"], "range": ["#b5a34b", "#8a8a8a", "#1a1a1a", "#b5a34b"]}, "legend": {"title": null, "labelOffset": 26, "symbolType": "M7,0H12.8"}}
           }},
          {"data": {"name": "m_smb"}, "mark": {"type": "line", "strokeWidth": 1.6},
           "encoding": {"x": {"field": "t", "type": "quantitative", "title": null}, "y": {"field": "v", "type": "quantitative", "title": null}, "color": {"datum": "SMB3", "type": "nominal"}}},
          {"data": {"name": "m_hml"}, "mark": {"type": "line", "strokeWidth": 2},
           "encoding": {"x": {"field": "t", "type": "quantitative", "title": null}, "y": {"field": "v", "type": "quantitative", "title": null}, "color": {"datum": "HML3", "type": "nominal"}}},
          {"data": {"name": "m_wml"}, "mark": {"type": "line", "strokeWidth": 1.8},
           "encoding": {"x": {"field": "t", "type": "quantitative", "title": null}, "y": {"field": "v", "type": "quantitative", "title": null}, "color": {"datum": "WML3", "type": "nominal"}}}
        ]
      },
      {
        "title": {"text": "Peru"},
        "width": 396, "height": 248,
        "layer": [
          {"layer": [
            {"data": {"values": [{}]}, "mark": {"type": "rule", "color": "#aaa", "strokeDash": [1, 3], "strokeWidth": 1}, "encoding": {"y": {"datum": 0}}},
            {"data": {"name": "p_rmrf"}, "mark": {"type": "line", "strokeWidth": 1.8},
             "encoding": {
               "x": {"field": "t", "type": "quantitative", "title": null, "scale": {"domain": [2005.734, 2016.266], "nice": false, "zero": false}, "axis": {"values": [2006, 2008, 2010, 2012, 2014, 2016], "format": "d"}},
               "y": {"field": "v", "type": "quantitative", "title": null, "scale": {"domain": [-2, 12], "nice": false, "zero": false}, "axis": {"orient": "left", "values": [-2, 0, 2, 4, 6, 8, 10, 12], "tickCount": 8, "labelOverlap": false, "format": "d"}},
               "color": {"datum": "RMRF4 (left)", "type": "nominal", "scale": {"domain": ["RMRF4 (left)", "SMB4 (right)", "HML4 (left)", "WML4 (left)"], "range": ["#b5a34b", "#8a8a8a", "#1a1a1a", "#b5a34b"]}, "legend": {"title": null, "labelOffset": 67, "symbolType": "M15,0H21.1"}}
             }},
            {"data": {"name": "p_hml"}, "mark": {"type": "line", "strokeWidth": 1.8},
             "encoding": {"x": {"field": "t", "type": "quantitative", "title": null}, "y": {"field": "v", "type": "quantitative", "title": null}, "color": {"datum": "HML4 (left)", "type": "nominal"}}},
            {"data": {"name": "p_wml"}, "mark": {"type": "line", "strokeWidth": 1.8},
             "encoding": {"x": {"field": "t", "type": "quantitative", "title": null}, "y": {"field": "v", "type": "quantitative", "title": null}, "color": {"datum": "WML4 (left)", "type": "nominal"}}}
          ]},
          {"data": {"name": "p_smb"}, "mark": {"type": "line", "strokeWidth": 1.4},
           "encoding": {
             "x": {"field": "t", "type": "quantitative", "title": null},
             "y": {"field": "v", "type": "quantitative", "title": null, "scale": {"domain": [-0.5, 0.2], "nice": false, "zero": false}, "axis": {"orient": "right", "values": [-0.5, -0.4, -0.3, -0.2, -0.1, 0, 0.1, 0.2], "labelOverlap": false, "format": "~g"}},
             "color": {"datum": "SMB4 (right)", "type": "nominal"}
           }}
        ],
        "resolve": {"scale": {"y": "independent"}, "axis": {"y": "independent"}}
      }
    ],
    "spacing": 40, "bounds": "flush",
    "resolve": {"scale": {"x": "independent", "y": "independent", "color": "independent"}, "legend": {"color": "independent"}, "axis": {"x": "independent", "y": "independent"}}
  }
],
"spacing": 43, "bounds": "full",
"resolve": {"scale": {"x": "independent", "y": "independent", "color": "independent"}, "legend": {"color": "independent"}, "axis": {"x": "independent", "y": "independent"}}
}
